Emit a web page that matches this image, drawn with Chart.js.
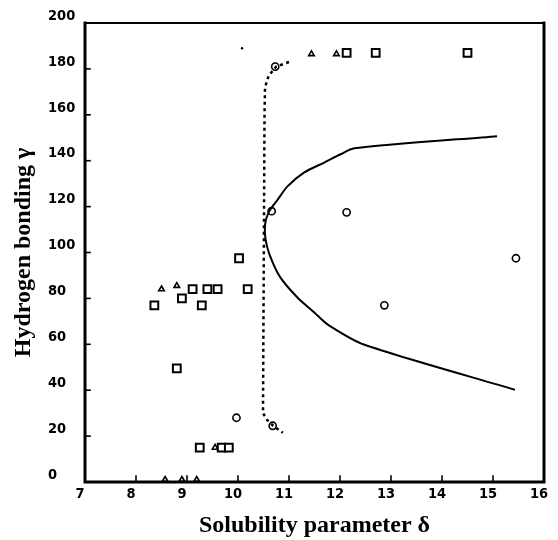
<!DOCTYPE html>
<html lang="en">
<head>
<meta charset="UTF-8">
<title>Solubility parameter vs hydrogen bonding</title>
<script src="https://cdn.jsdelivr.net/npm/chart.js"></script>
<style>
  html, body { margin: 0; padding: 0; background: #fff; }
  #box { width: 558px; height: 540px; }
</style>
</head>
<body>
<div id="box"><canvas id="grafico"></canvas></div>
<script>
// values
const squareX = [8.36, 8.9, 9.11, 9.29, 9.4, 9.6, 10.19, 10.02, 8.8, 9.25, 9.68, 9.82, 12.13, 12.7, 14.5];
const squareY = [77, 80, 84, 77, 84, 84, 84, 97.5, 49.5, 15, 15, 15, 187, 187, 187];

const circleX = [10.73, 10.66, 12.13, 15.45, 12.87, 9.97, 10.68];
const circleY = [181, 118, 117.5, 97.5, 77, 28, 24.5];

const triangleX = [8.5, 8.8, 9.55, 11.44, 11.93, 8.57, 8.9, 9.19];
const triangleY = [84, 85.5, 15, 186.5, 186.5, 1, 1, 1];

const speckX = [10.08];
const speckY = [189];

// solid boundary curve
const curveX = [15.08, 12.28, 12.01, 11.7, 11.3, 10.97, 10.78, 10.6, 10.53, 10.54, 10.62, 10.82, 11.17, 11.5, 11.76, 12.48, 15.43];
const curveY = [150.7, 145.4, 142.8, 139.3, 134.9, 128.8, 123.1, 117.5, 112, 105.7, 99, 89.5, 80.3, 73.8, 68.6, 59.8, 40.2];

// dotted boundary
const dottedX = [11.0, 10.75, 10.6, 10.53, 10.52, 10.49, 10.57, 10.69, 10.88];
const dottedY = [183, 181, 177, 172, 160, 30, 27, 24.5, 21.5];

const xTicks = [7, 8, 9, 10, 11, 12, 13, 14, 15, 16];
const yTicks = [0, 20, 40, 60, 80, 100, 120, 140, 160, 180, 200];

function pares(xs, ys) {
    let out = [];
    for (let i = 0; i < xs.length; i++) {
        out.push({ x: xs[i], y: ys[i] });
    }
    return out;
}

// frame and inward tick marks
const moldura = {
    id: 'moldura',
    afterDraw(chart) {
        const ctx = chart.ctx;
        const a = chart.chartArea;
        const sx = chart.scales.x;
        const sy = chart.scales.y;
        ctx.save();
        ctx.strokeStyle = '#000';
        ctx.lineCap = 'square';

        ctx.lineWidth = 1.6;
        xTicks.forEach(function (v) {
            const px = sx.getPixelForValue(v);
            ctx.beginPath();
            ctx.moveTo(px, a.bottom);
            ctx.lineTo(px, a.bottom - 6);
            ctx.stroke();
        });
        yTicks.forEach(function (v) {
            const py = sy.getPixelForValue(v);
            ctx.beginPath();
            ctx.moveTo(a.left, py);
            ctx.lineTo(a.left + 5, py);
            ctx.stroke();
        });

        ctx.lineWidth = 3;
        ctx.beginPath();
        ctx.moveTo(a.left, a.top);
        ctx.lineTo(a.left, a.bottom);
        ctx.lineTo(a.right, a.bottom);
        ctx.lineTo(a.right, a.top);
        ctx.stroke();

        ctx.lineWidth = 2;
        ctx.beginPath();
        ctx.moveTo(a.left, a.top);
        ctx.lineTo(a.right, a.top);
        ctx.stroke();
        ctx.restore();
    }
};

const tickFont = { family: '"Liberation Sans Narrow", "DejaVu Sans Condensed", "Liberation Sans", sans-serif', size: 14.5, weight: 'bold' };
const titleFont = { family: '"Liberation Serif", "DejaVu Serif", serif', size: 24, weight: 'bold' };

const config = {
    type: 'scatter',
    data: {
        datasets: [
            {
                label: 'curve',
                data: pares(curveX, curveY),
                showLine: true,
                borderColor: '#000',
                borderWidth: 2,
                pointRadius: 0,
                tension: 0.25,
                fill: false
            },
            {
                label: 'dotted',
                data: pares(dottedX, dottedY),
                showLine: true,
                borderColor: '#000',
                borderWidth: 2.5,
                borderDash: [3, 3.5],
                pointRadius: 0,
                tension: 0,
                fill: false
            },
            {
                label: 'squares',
                data: pares(squareX, squareY),
                pointStyle: 'rect',
                pointRadius: 5.5,
                borderWidth: 2,
                borderColor: '#000',
                backgroundColor: '#fff'
            },
            {
                label: 'circles',
                data: pares(circleX, circleY),
                pointStyle: 'circle',
                pointRadius: 3.6,
                borderWidth: 1.6,
                borderColor: '#000',
                backgroundColor: '#fff'
            },
            {
                label: 'triangles',
                data: pares(triangleX, triangleY),
                pointStyle: 'triangle',
                pointRadius: 3.2,
                borderWidth: 1.6,
                borderColor: '#000',
                backgroundColor: '#fff',
                clip: false
            },
            {
                label: 'speck',
                data: pares(speckX, speckY),
                pointRadius: 1.2,
                borderWidth: 0,
                backgroundColor: '#000'
            }
        ]
    },
    options: {
        responsive: true,
        maintainAspectRatio: false,
        animation: false,
        layout: { padding: { left: 48, top: 23, right: 14, bottom: 0 } },
        plugins: {
            legend: { display: false },
            tooltip: { enabled: false }
        },
        scales: {
            x: {
                type: 'linear',
                min: 7,
                max: 16,
                afterBuildTicks: function (scale) {
                    scale.ticks = xTicks.map(function (v) { return { value: v }; });
                },
                afterFit: function (scale) { scale.height = 58; },
                grid: { display: false },
                border: { display: false },
                ticks: { color: '#000', font: tickFont, padding: -4, labelOffset: -5, maxRotation: 0 },
                title: {
                    display: true,
                    text: 'Solubility parameter δ',
                    color: '#000',
                    font: titleFont,
                    padding: { top: 0, bottom: 0 }
                }
            },
            y: {
                type: 'linear',
                min: 0,
                max: 200,
                afterBuildTicks: function (scale) {
                    scale.ticks = yTicks.map(function (v) { return { value: v }; });
                },
                afterFit: function (scale) { scale.width = 37; },
                grid: { display: false },
                border: { display: false },
                ticks: { color: '#000', font: tickFont, padding: 12, crossAlign: 'far', labelOffset: -7 },
                title: {
                    display: true,
                    text: 'Hydrogen bonding γ',
                    color: '#000',
                    font: titleFont,
                    padding: { top: -39, bottom: 0 }
                }
            }
        }
    },
    plugins: [moldura]
};

let grafico = new Chart(document.getElementById('grafico'), config);
</script>
</body>
</html>
